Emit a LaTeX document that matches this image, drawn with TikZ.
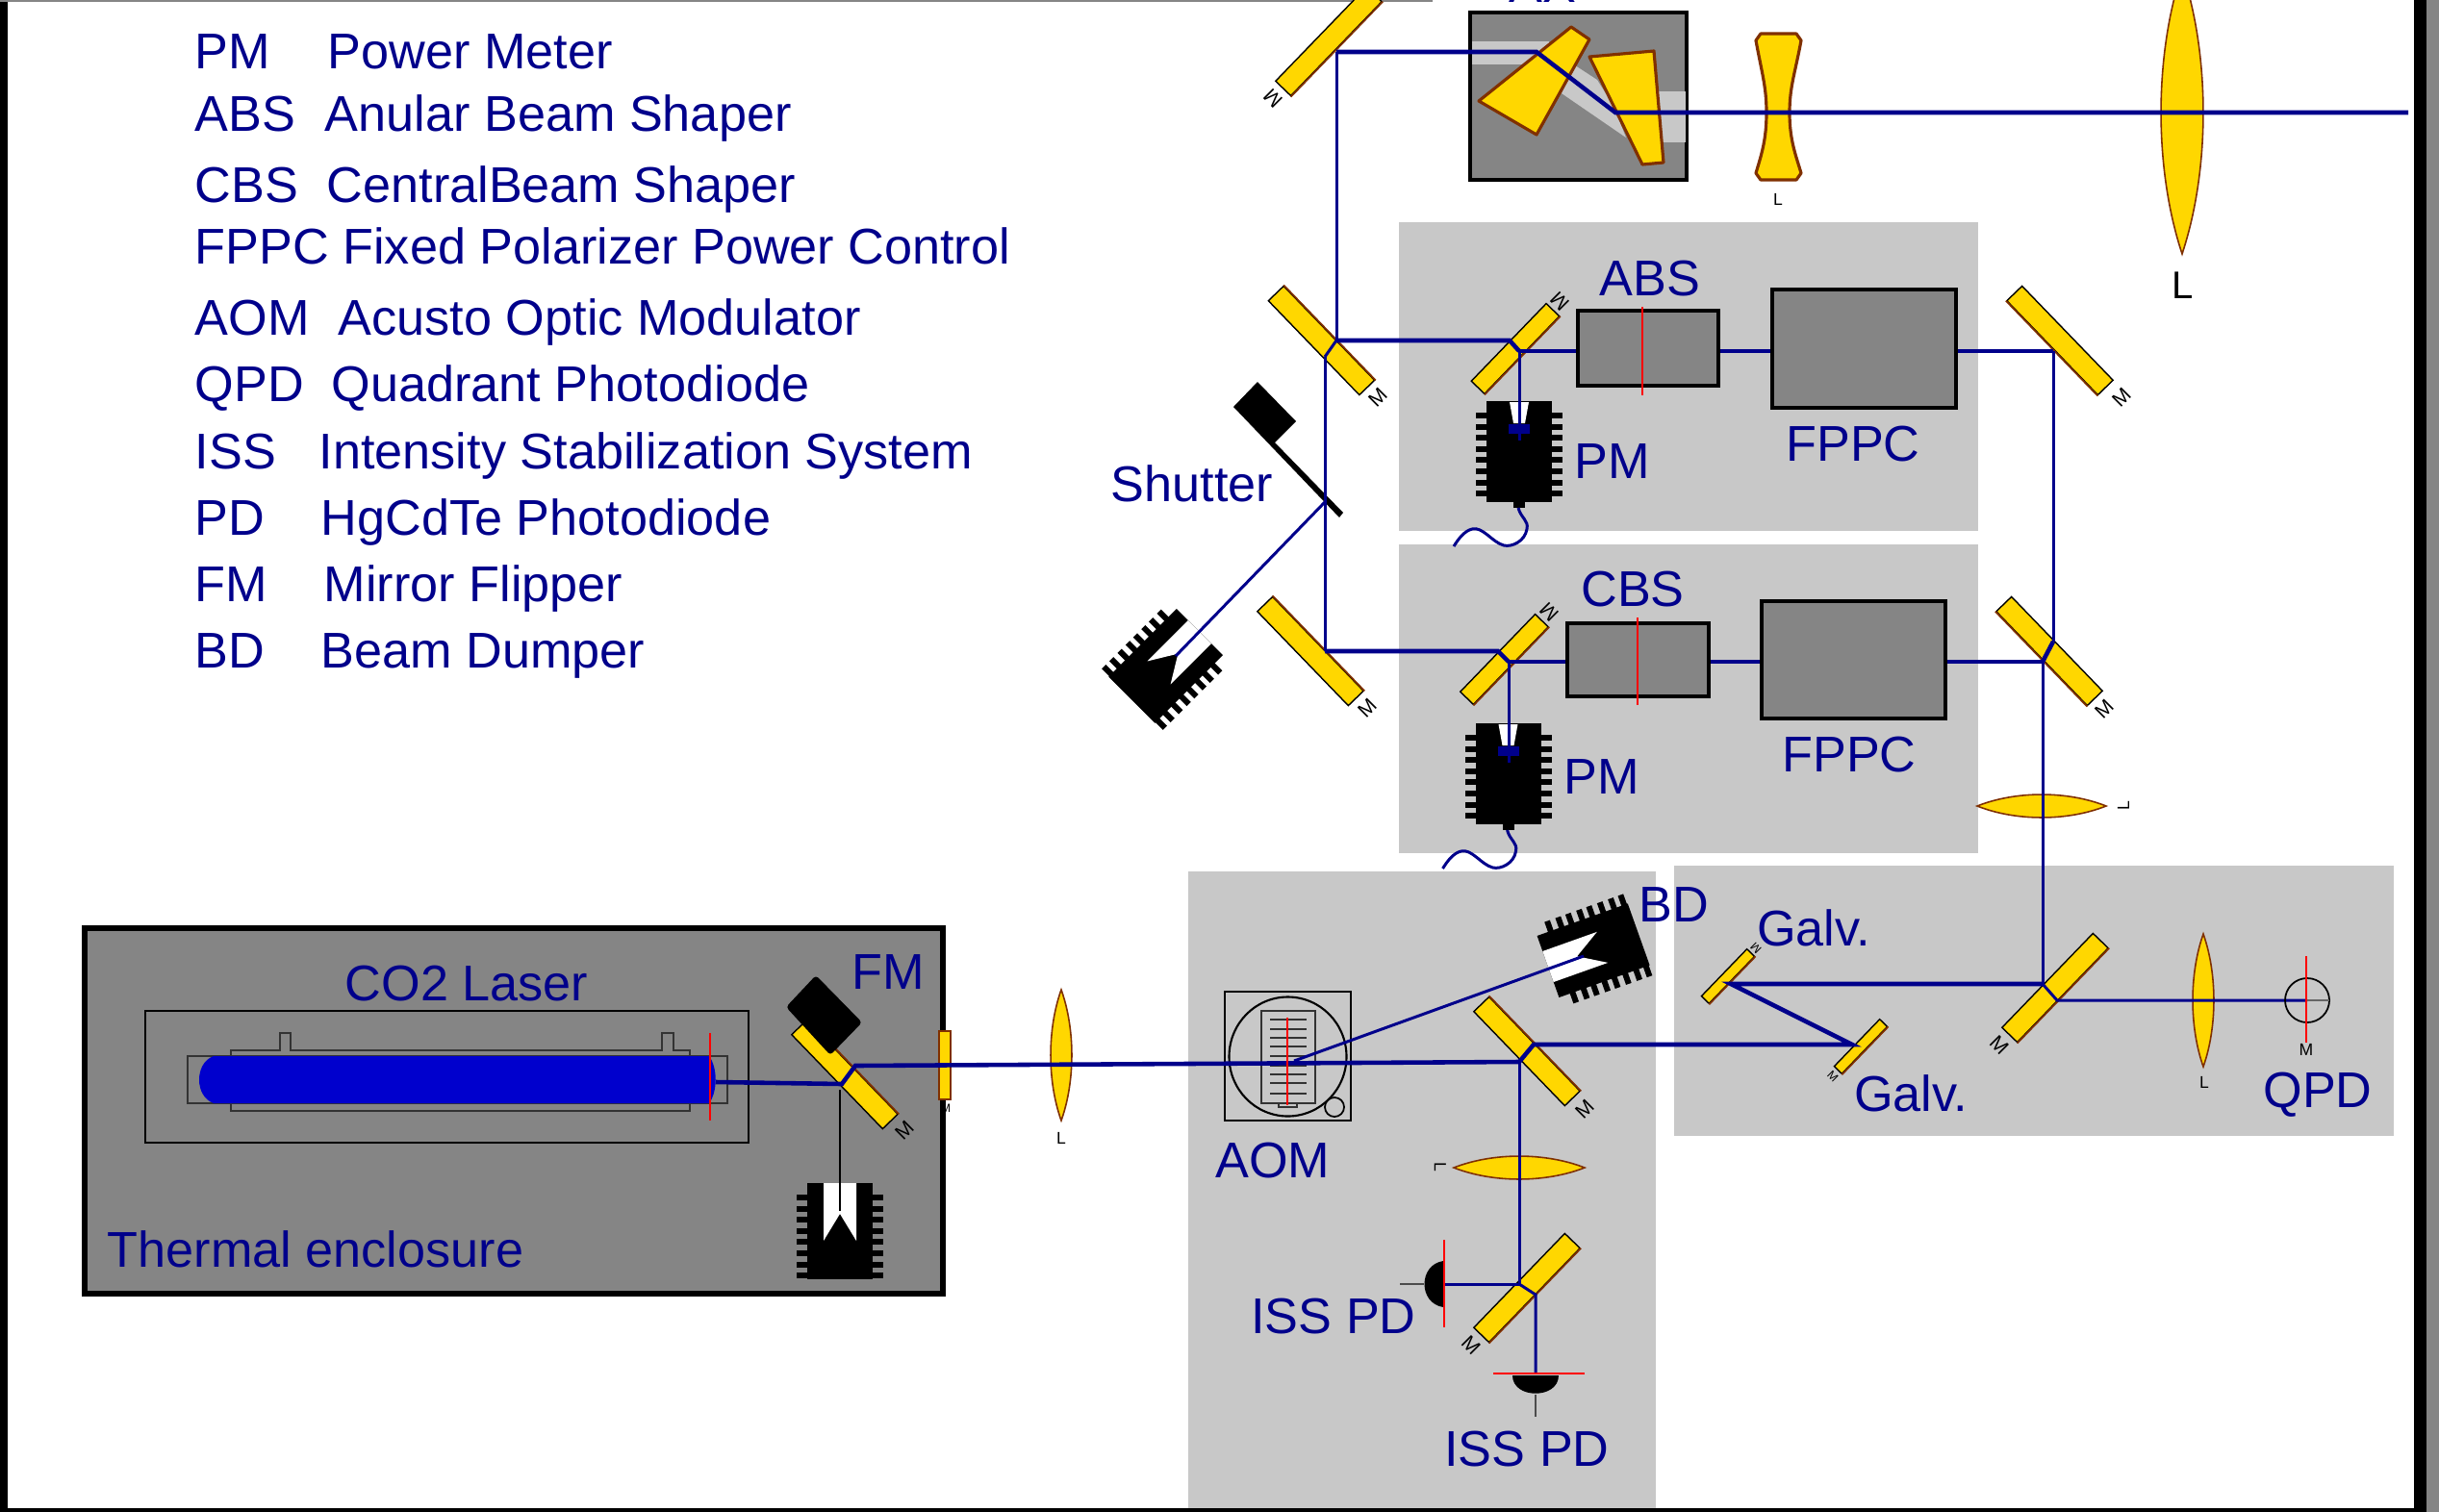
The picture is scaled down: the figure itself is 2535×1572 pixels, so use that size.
\documentclass[tikz,border=0pt]{standalone}
\usepackage{fontspec}
\setmainfont{Liberation Sans}
\usepackage{tikz}
\usetikzlibrary{arrows}
\usetikzlibrary{calc}
\definecolor{beamblue}{RGB}{0,0,139}
\definecolor{tubeblue}{RGB}{0,0,205}
\definecolor{panelgray}{RGB}{200,200,200}
\definecolor{boxgray}{RGB}{133,133,133}
\definecolor{glassgold}{RGB}{255,215,0}
\definecolor{glassbrown}{RGB}{128,48,0}
\newcommand{\labelfont}[0]{\fontsize{14.85}{17}\selectfont}
\newcommand{\legendtab}[3]{\makebox[#1cm][l]{#2}#3}
\newcommand{\mirror}[5]{
  \node[#1, rotate=#5] (#2) at (#3,#4) {};
  \draw[mirrorback] (#2.north west) -- (#2.north east);
}
\newcommand{\lens}[5]{
  \draw[lensbody, shift={(#1,#2)}, rotate=#3]
    (0,-#4) .. controls (1.33*#5,-0.4*#4) and (1.33*#5,0.4*#4) .. (0,#4)
    .. controls (-1.33*#5,0.4*#4) and (-1.33*#5,-0.4*#4) .. cycle;
}
\newcommand{\sink}[4]{
  \begin{scope}[shift={(#1,#2)}, rotate=#3]
    \fill[black] (-34,0) rectangle (34,#4);
    \foreach \t in {12,24,35,47,58,70,82,93} {
      \fill[black] (-45,\t) rectangle (45,\t+6);
    }
  \end{scope}
}
\newcommand{\dumpnotch}[3]{
  \fill[white, shift={(#1,#2)}, rotate=#3]
    (-17,0) -- (17,0) -- (17,60) -- (0,32) -- (-17,60) -- cycle;
}
\newcommand{\powermeter}[2]{
  \sink{#1}{#2}{0}{105}
  \begin{scope}[shift={(#1,#2)}]
    \fill[black] (-6,105) rectangle (6,111);
    \fill[white] (-10,1) -- (10,1) -- (6,23) -- (-6,23) -- cycle;
    \fill[beamblue] (-11,24) rectangle (11,34);
    \draw[beamthin] (-1,111) .. controls (2,122) and (10,124) .. (8,133)
      .. controls (6,146) and (-8,152) .. (-16,150)
      .. controls (-28,147) and (-38,130) .. (-49,133)
      .. controls (-57,135) and (-63,143) .. (-68,151);
  \end{scope}
}
\begin{document}
\begin{tikzpicture}[x=0.01cm,y=-0.01cm,line join=miter]
\tikzstyle{beam} = [beamblue, line width=1.3pt]
\tikzstyle{beamthin} = [beamblue, line width=0.85pt]
\tikzstyle{panel} = [fill=panelgray]
\tikzstyle{darkbox} = [draw=black, fill=boxgray, line width=1pt, inner sep=0pt]
\tikzstyle{mirrorbig} = [draw=black, fill=glassgold, line width=0.4pt, inner sep=0pt, minimum width=1.36cm, minimum height=0.22cm]
\tikzstyle{mirrorsmall} = [mirrorbig, minimum width=1.12cm, minimum height=0.19cm]
\tikzstyle{mirrorgalv} = [mirrorbig, minimum width=0.68cm, minimum height=0.11cm]
\tikzstyle{mirrorback} = [glassbrown, line width=0.5pt]
\tikzstyle{lensbody} = [draw=glassbrown, fill=glassgold, line width=0.45pt]
\tikzstyle{prism} = [draw=glassbrown, fill=glassgold, line width=0.9pt, line join=round]
\tikzstyle{redline} = [red, line width=0.7pt]
\tikzstyle{thinline} = [black, line width=0.5pt]
\tikzstyle{stem} = [black!70, line width=0.3pt]
\tikzstyle{lab} = [text=beamblue, font=\labelfont, inner sep=0pt]
\tikzstyle{legend} = [lab, anchor=base west]
\tikzstyle{tag} = [text=black, font=\fontsize{6}{7}\selectfont, inner sep=0pt]
\tikzstyle{tagsmall} = [text=black, font=\fontsize{3.5}{4}\selectfont, inner sep=0pt]

\useasboundingbox (0,0) rectangle (2535,1572);
\fill[white] (0,0) rectangle (2535,1572);

\fill[black] (0,0) rectangle (8,1572);
\fill[black] (0,1568) rectangle (2535,1572);
\fill[black] (2509,0) rectangle (2522,1572);
\fill[boxgray] (2522,0) rectangle (2535,1572);
\fill[boxgray] (0,0) rectangle (1489,2);

\node[legend] (LG0) at (202,71)  {\legendtab{1.38}{PM}{Power Meter}};
\node[legend] (LG1) at (202,136) {\legendtab{1.35}{ABS}{Anular Beam Shaper}};
\node[legend] (LG2) at (202,210) {\legendtab{1.37}{CBS}{CentralBeam Shaper}};
\node[legend] (LG3) at (202,274) {FPPC Fixed Polarizer Power Control};
\node[legend] (LG4) at (202,348) {\legendtab{1.49}{AOM}{Acusto Optic Modulator}};
\node[legend] (LG5) at (202,417) {\legendtab{1.42}{QPD}{Quadrant Photodiode}};
\node[legend] (LG6) at (202,487) {\legendtab{1.29}{ISS}{Intensity Stabilization System}};
\node[legend] (LG7) at (202,556) {\legendtab{1.31}{PD}{HgCdTe Photodiode}};
\node[legend] (LG8) at (202,625) {\legendtab{1.34}{FM}{Mirror Flipper}};
\node[legend] (LG9) at (202,694) {\legendtab{1.31}{BD}{Beam Dumper}};

\fill[panel] (1454,231) rectangle (2056,552);
\fill[panel] (1454,566) rectangle (2056,887);
\fill[panel] (1235,906) rectangle (1721,1568);
\fill[panel] (1740,900) rectangle (2488,1181);

\draw[darkbox, line width=1.7pt] (88,965) rectangle (980,1345);
\draw[thinline, line width=0.6pt] (151,1051) rectangle (778,1188);
\draw[thinline, fill=boxgray, draw=black!80] (195,1098) rectangle (756,1147);
\draw[thinline, draw=black!80] (240,1098) -- (240,1092) -- (291,1092) -- (291,1074) -- (302,1074) -- (302,1092) -- (688,1092) -- (688,1074) -- (700,1074) -- (700,1092) -- (717,1092) -- (717,1098);
\draw[thinline, draw=black!80] (240,1147) -- (240,1155) -- (717,1155) -- (717,1147);
\fill[tubeblue] (222,1098) .. controls (202,1105) and (202,1140) .. (222,1147) -- (737,1147) .. controls (746,1135) and (746,1110) .. (737,1098) -- cycle;

\mirror{mirrorbig}{FMM}{878}{1117}{-46}
\fill[black, rounded corners=1pt] (817,1047) -- (848,1014) -- (896,1063) -- (863,1097) -- cycle;
\sink{873}{1230}{0}{100}
\dumpnotch{873}{1230}{0}
\draw[glassbrown, fill=glassgold, line width=0.5pt] (976,1072) rectangle (988,1143);
\lens{1103}{1097}{0}{68}{11}

\node[darkbox, minimum width=2.25cm, minimum height=1.74cm] (TEL) at (1640.5,100) {};
\fill[panelgray] (1530,43) rectangle (1610,67);
\fill[panelgray] (1720,95) rectangle (1752,148);
\fill[panelgray] (1637,68) -- (1660,83) -- (1677,110) -- (1690,143) -- (1623,97) -- cycle;
\draw[prism] (1633,28) -- (1652,41) -- (1597,140) -- (1537,105) -- cycle;
\draw[prism] (1652,59) -- (1719,53) -- (1729,169) -- (1707,171) -- cycle;
\draw[prism] (1830,35) -- (1867,35) -- (1872,42) .. controls (1866,75) and (1860,90) .. (1860,117) .. controls (1860,145) and (1866,160) .. (1872,180) -- (1867,187) -- (1830,187) -- (1825,180) .. controls (1831,160) and (1836,145) .. (1836,117) .. controls (1836,90) and (1831,75) .. (1825,42) -- cycle;
\lens{2268}{117}{0}{147}{22}
\lens{2122}{838}{90}{67}{12}
\lens{1579}{1214}{90}{68}{12}
\lens{2290}{1040}{0}{69}{11}

\mirror{mirrorbig}{MTOP}{1381}{43}{226}
\mirror{mirrorbig}{MA}{1373.5}{354}{-46}
\mirror{mirrorbig}{MB}{1362}{677}{-46}
\mirror{mirrorbig}{MC}{2141}{354}{134}
\mirror{mirrorbig}{MD}{2130}{677}{134}
\mirror{mirrorsmall}{ME}{1575}{362.5}{226}
\mirror{mirrorsmall}{MF}{1563.5}{685.5}{226}
\mirror{mirrorbig}{MG}{1587}{1093}{-46}
\mirror{mirrorbig}{MH}{1587}{1339}{226}
\mirror{mirrorbig}{MI}{2136}{1027}{226}
\mirror{mirrorgalv}{GA}{1796}{1015}{226}
\mirror{mirrorgalv}{GB}{1934}{1088}{226}

\node[darkbox] (ABS) at (1713,362) [minimum width=1.46cm, minimum height=0.78cm] {};
\node[darkbox] (FPPCA) at (1937.5,362.5) [minimum width=1.91cm, minimum height=1.23cm] {};
\node[darkbox] (CBS) at (1702.5,686) [minimum width=1.47cm, minimum height=0.76cm] {};
\node[darkbox] (FPPCB) at (1926.5,686) [minimum width=1.91cm, minimum height=1.22cm] {};

\fill[black] (1282,423) -- (1307,397) -- (1347,438) -- (1325,460) -- (1396,533) -- (1392,538) -- cycle;
\sink{1247}{657}{-45}{100}
\dumpnotch{1247}{657}{-45}
\sink{1609}{1005}{109.6}{100}
\dumpnotch{1609}{1005}{109.6}
\powermeter{1579}{417}
\powermeter{1567.5}{752}

\node[draw=black, line width=0.6pt, minimum width=1.31cm, minimum height=1.34cm, inner sep=0pt] (AOM) at (1338.5,1098) {};
\draw[black, line width=0.6pt] (1338.5,1098.5) circle [x radius=61, y radius=-62];
\draw[black!80, line width=0.7pt] (1311,1051) rectangle (1367,1147);
\draw[black!80, line width=0.3pt] (1329,1147) rectangle (1348,1151);
\draw[black, line width=0.5pt] (1387,1151) circle [x radius=10, y radius=-10];
\draw[black!80, line width=0.45pt] (1320,1060) -- (1358,1060) (1320,1070) -- (1358,1070) (1320,1079) -- (1358,1079) (1320,1088) -- (1358,1088) (1320,1098) -- (1358,1098) (1320,1108) -- (1358,1108) (1320,1117) -- (1358,1117) (1320,1126) -- (1358,1126) (1320,1137) -- (1358,1137);

\coordinate (TA) at (1389,54);
\coordinate (TB) at (1597,54);
\coordinate (TC) at (1679,117);
\coordinate (TD) at (2503,117);
\coordinate (AA) at (1389,354);
\coordinate (AB) at (1377,371);
\coordinate (AC) at (1569,354);
\coordinate (AD) at (1579,365);
\coordinate (AE) at (2134,365);
\coordinate (BA) at (1377,522);
\coordinate (BB) at (1222,682);
\coordinate (CA) at (1377,677);
\coordinate (CB) at (1557,677);
\coordinate (CC) at (1568,688);
\coordinate (CD) at (2123,688);
\coordinate (CE) at (2134,667);
\coordinate (LA) at (744,1125);
\coordinate (LB) at (875,1127);
\coordinate (LC) at (889,1108);
\coordinate (LD) at (1579,1104);
\coordinate (LE) at (1345,1103);
\coordinate (LF) at (1646,994);
\coordinate (GC) at (1594,1086);
\coordinate (GD) at (1925,1086);
\coordinate (GE) at (1799,1023);
\coordinate (GF) at (2123,1023);
\coordinate (GG) at (2138,1040);
\coordinate (QA) at (2398,1040);
\coordinate (PA) at (1579,1335);
\coordinate (PB) at (1501,1335);
\coordinate (PC) at (1596,1346);
\coordinate (PD) at (1596,1428);
\coordinate (DA) at (873,1133);
\coordinate (DB) at (873,1259);

\draw[beamthin] (TA) -- (AA);
\draw[beam] (TA) -- (TB) -- (TC) -- (TD);
\draw[beam] (AA) -- (AC) -- (AD);
\draw[beamthin] (AA) -- (AB);
\draw[beamthin] (AB) -- (CA);
\draw[beamthin] (AD) -- (1579,458);
\draw[beam] (AD) -- (AD -| ABS.west);
\draw[beam] (AD -| ABS.east) -- (AD -| FPPCA.west);
\draw[beam] (AD -| FPPCA.east) -- (AE);
\draw[beamthin] (AE) -- (CE);
\draw[beam] (CE) -- (CD);
\draw[beamthin] (BA) -- (BB);
\draw[beam] (CA) -- (CB) -- (CC);
\draw[beamthin] (CC) -- (1568,793);
\draw[beam] (CC) -- (CC -| CBS.west);
\draw[beam] (CC -| CBS.east) -- (CC -| FPPCB.west);
\draw[beam] (CC -| FPPCB.east) -- (CD);
\draw[beamthin] (CD) -- (GF);
\draw[beam] (GF) -- (GE) -- (GD) -- (GC) -- (LD) -- (LC) -- (LB) -- (LA);
\draw[beamthin] (GF) -- (GG) -- (QA);
\draw[beamthin] (LE) -- (LF);
\draw[beamthin] (LD) -- (PA);
\draw[beamthin] (PA) -- (PB);
\draw[beamthin] (PA) -- (PC) -- (PD);
\draw[black, line width=0.75pt] (DA) -- (DB);

\fill[black] (1500,1311) .. controls (1474,1315) and (1474,1355) .. (1500,1359) -- cycle;
\draw[stem] (1455,1335) -- (1480,1335);
\fill[black] (1572,1430) .. controls (1572,1455) and (1620,1455) .. (1620,1430) -- cycle;
\draw[stem] (1596,1450) -- (1596,1473);
\draw[thinline] (2375,1040) arc (180:-180:23);
\draw[black!60, line width=0.4pt] (2398,1040) -- (2421,1040);

\draw[redline] (738,1074) -- (738,1165);
\draw[redline] (1707,319) -- (1707,411);
\draw[redline] (1702,642) -- (1702,733);
\draw[redline] (1338,1058) -- (1338,1149);
\draw[redline] (1501,1289) -- (1501,1380);
\draw[redline] (1552,1428) -- (1647,1428);
\draw[redline] (2397,994) -- (2397,1084);

\node[tag, rotate=135] (MTOPL) at (1323,102) {M};
\node[tag, rotate=45] (MAL) at (1432,413) {M};
\node[tag, rotate=45] (MBL) at (1421,736) {M};
\node[tag, rotate=45] (MCL) at (2205,413) {M};
\node[tag, rotate=45] (MDL) at (2187,737) {M};
\node[tag, rotate=135] (MEL) at (1621,313) {M};
\node[tag, rotate=135] (MFL) at (1610,636) {M};
\node[tag, rotate=45] (MGL) at (1647,1153) {M};
\node[tag, rotate=-45] (MHL) at (1529,1399) {M};
\node[tag, rotate=-45] (MIL) at (2078,1087) {M};
\node[tag, rotate=45] (FML) at (940,1175) {M};
\node[tagsmall, rotate=135] (GAL) at (1825,986) {M};
\node[tagsmall, rotate=-45] (GBL) at (1905,1119) {M};
\node[tagsmall] (WML) at (983,1152) {M};
\node[tag, font=\fontsize{5}{6}\selectfont] (QL) at (2397,1091) {M};

\node[tag, font=\fontsize{5}{6}\selectfont] (LNA) at (1848,207) {L};
\node[tag, font=\fontsize{5}{6}\selectfont] (LNB) at (1103,1183) {L};
\node[tag, font=\fontsize{5}{6}\selectfont] (LNC) at (2291,1125) {L};
\node[tag, font=\fontsize{5}{6}\selectfont, rotate=90] (LND) at (2207,838) {L};
\node[tag, font=\fontsize{5}{6}\selectfont, rotate=-90] (LNE) at (1497,1213) {L};
\node[tag, font=\fontsize{11.4}{13}\selectfont] (LNF) at (2269,297) {L};

\node[lab] (TABS) at (1715,290) {ABS};
\node[lab] (TPMA) at (1676,480) {PM};
\node[lab] (TFPA) at (1926,462) {FPPC};
\node[lab] (TCBS) at (1697,613) {CBS};
\node[lab] (TPMB) at (1665,808) {PM};
\node[lab] (TFPB) at (1922,785) {FPPC};
\node[lab] (TSHU) at (1239,503) {Shutter};
\node[lab] (TBD) at (1740,941) {BD};
\node[lab] (TGA) at (1885,965) {Galv.};
\node[lab] (TGB) at (1986,1137) {Galv.};
\node[lab] (TAOM) at (1323,1207) {AOM};
\node[lab] (TQPD) at (2409,1138) {QPD};
\node[lab] (TISA) at (1386,1369) {ISS PD};
\node[lab] (TISB) at (1587,1507) {ISS PD};
\node[lab] (TFM) at (923,1011) {FM};
\node[lab] (TCO) at (485,1023) {CO2 Laser};
\node[lab] (TTH) at (328,1299) {Thermal enclosure};
\node[lab, anchor=base west] (TAX) at (1568,2) {AX};

\end{tikzpicture}
\end{document}
